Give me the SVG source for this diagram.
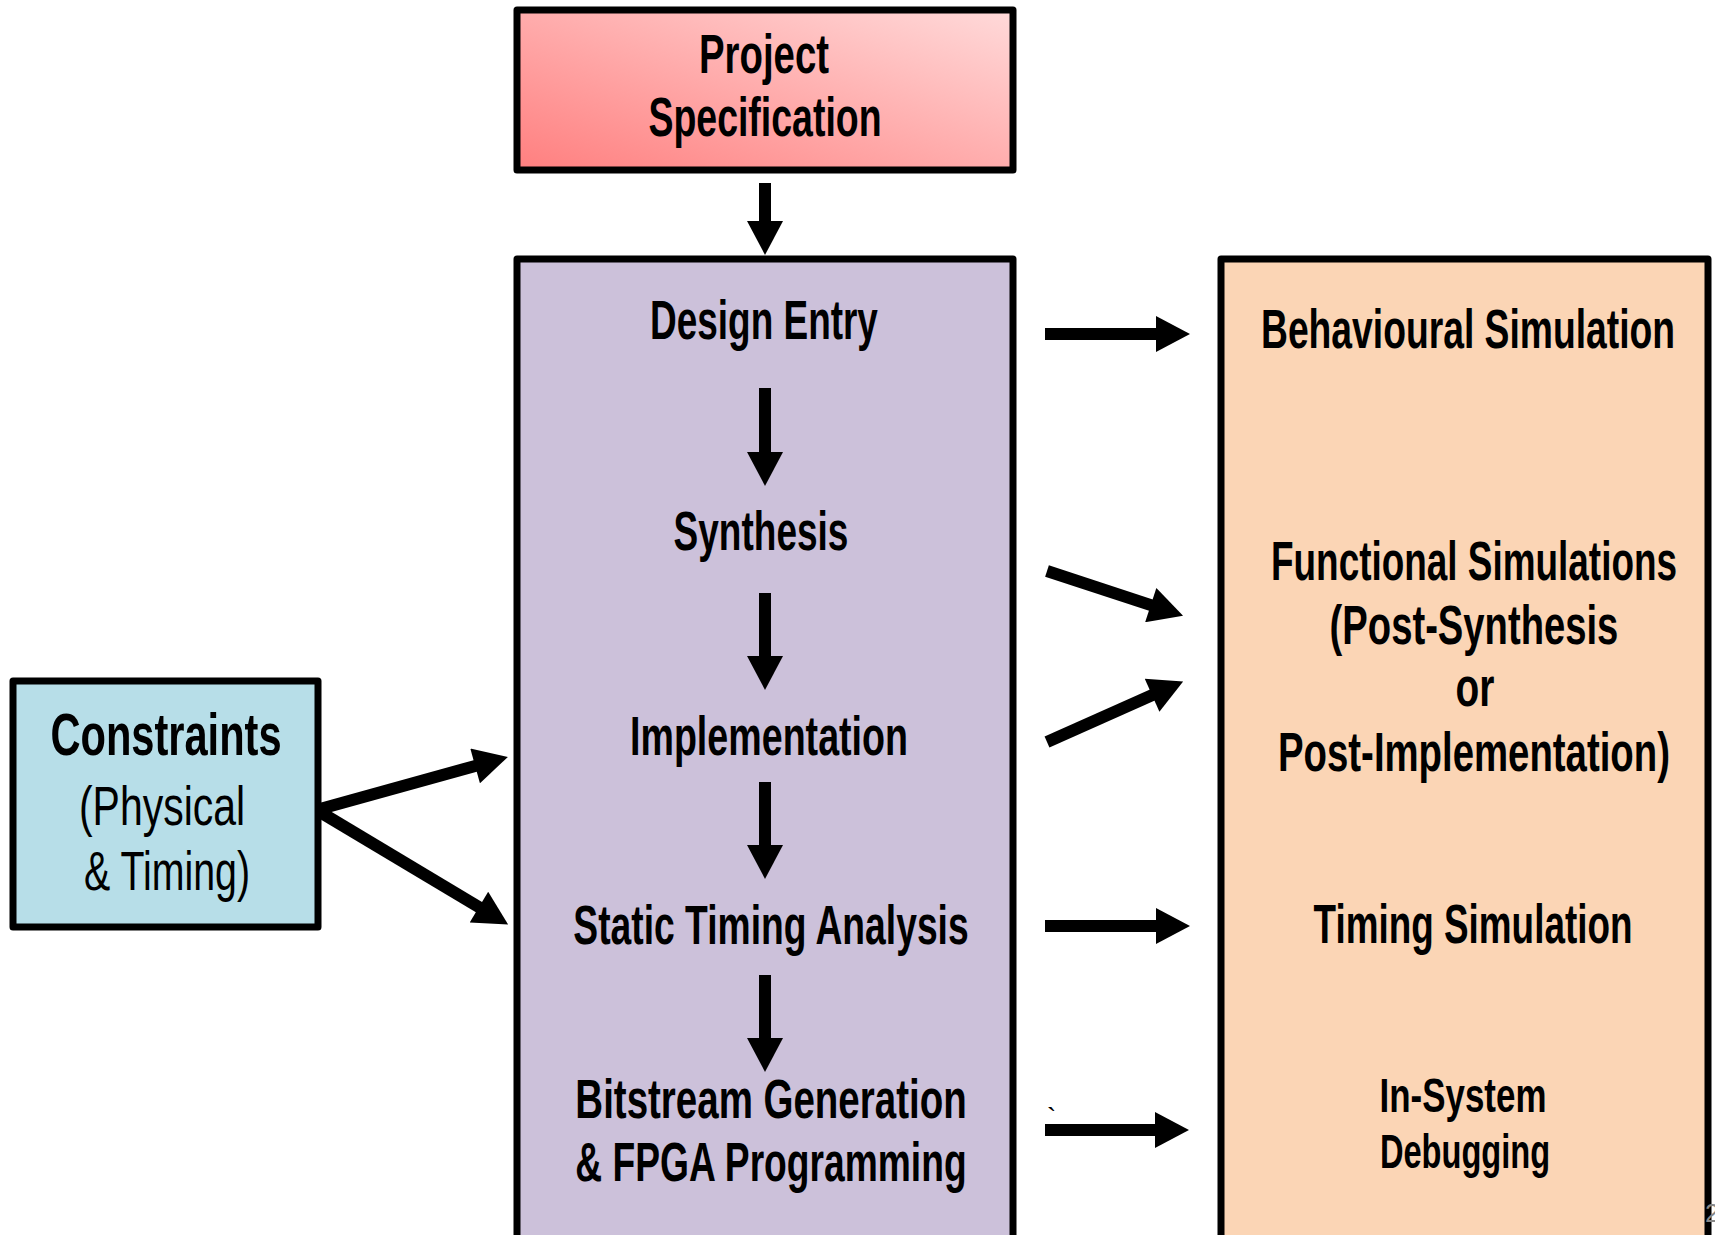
<svg xmlns="http://www.w3.org/2000/svg" width="1715" height="1235" viewBox="0 0 1715 1235">
<defs>
<linearGradient id="pink" x1="0" y1="1" x2="1" y2="0">
<stop offset="0" stop-color="#ff7f7f"/>
<stop offset="1" stop-color="#ffdada"/>
</linearGradient>
<marker id="ah" markerUnits="userSpaceOnUse" markerWidth="36" markerHeight="36" viewBox="0 -18 34 36" refX="1" refY="0" orient="auto">
<path d="M0,-18 L34,0 L0,18 Z" fill="#000"/>
</marker>
</defs>
<style>
.box{stroke:#000;stroke-width:7;stroke-linejoin:round}
.t{font-family:"Liberation Sans","Arial",sans-serif;font-weight:bold;font-size:56px;fill:#000;text-anchor:middle}
.r{font-weight:normal}
.c{stroke:#000;stroke-width:12;fill:none;marker-end:url(#ah)}
</style>
<rect width="1715" height="1235" fill="#fff"/>

<g id="project-spec">
<rect class="box" x="517" y="10" width="496" height="160" fill="url(#pink)"/>
<text class="t" transform="translate(764,73) scale(0.67,1)" textLength="194" lengthAdjust="spacingAndGlyphs">Project</text>
<text class="t" transform="translate(765,136) scale(0.67,1)" textLength="348" lengthAdjust="spacingAndGlyphs">Specification</text>
</g>

<g id="flow">
<rect class="box" x="517" y="259" width="496" height="985" fill="#ccc1da"/>
<text class="t" transform="translate(764,339) scale(0.67,1)" textLength="340" lengthAdjust="spacingAndGlyphs">Design Entry</text>
<text class="t" transform="translate(761,550) scale(0.67,1)" textLength="261" lengthAdjust="spacingAndGlyphs">Synthesis</text>
<text class="t" transform="translate(769,755) scale(0.67,1)" textLength="415" lengthAdjust="spacingAndGlyphs">Implementation</text>
<text class="t" transform="translate(771,944) scale(0.67,1)" textLength="590" lengthAdjust="spacingAndGlyphs">Static Timing Analysis</text>
<text class="t" transform="translate(771,1118) scale(0.67,1)" textLength="584" lengthAdjust="spacingAndGlyphs">Bitstream Generation</text>
<text class="t" transform="translate(771,1181) scale(0.67,1)" textLength="584" lengthAdjust="spacingAndGlyphs">&amp; FPGA Programming</text>
</g>

<g id="verification">
<rect class="box" x="1221" y="259" width="487" height="985" fill="#fbd5b5"/>
<text class="t" transform="translate(1468,348) scale(0.67,1)" textLength="618" lengthAdjust="spacingAndGlyphs">Behavioural Simulation</text>
<text class="t" transform="translate(1474,580) scale(0.67,1)" textLength="606" lengthAdjust="spacingAndGlyphs">Functional Simulations</text>
<text class="t" transform="translate(1474,644) scale(0.67,1)" textLength="431" lengthAdjust="spacingAndGlyphs">(Post-Synthesis</text>
<text class="t" transform="translate(1475,706) scale(0.67,1)" textLength="58" lengthAdjust="spacingAndGlyphs">or</text>
<text class="t" transform="translate(1474,771) scale(0.67,1)" textLength="585" lengthAdjust="spacingAndGlyphs">Post-Implementation)</text>
<text class="t" transform="translate(1473,943) scale(0.67,1)" textLength="476" lengthAdjust="spacingAndGlyphs">Timing Simulation</text>
<text class="t" style="font-size:49px" transform="translate(1463,1112) scale(0.67,1)" textLength="249" lengthAdjust="spacingAndGlyphs">In-System</text>
<text class="t" style="font-size:49px" transform="translate(1465,1168) scale(0.67,1)" textLength="254" lengthAdjust="spacingAndGlyphs">Debugging</text>
</g>

<g id="constraints">
<rect class="box" x="13" y="681" width="305" height="246" fill="#b7dee8"/>
<text class="t" style="font-size:60px" transform="translate(166,755) scale(0.67,1)" textLength="345" lengthAdjust="spacingAndGlyphs">Constraints</text>
<text class="t r" transform="translate(162,825) scale(0.67,1)" textLength="248" lengthAdjust="spacingAndGlyphs">(Physical</text>
<text class="t r" transform="translate(167,890) scale(0.67,1)" textLength="248" lengthAdjust="spacingAndGlyphs">&amp; Timing)</text>
</g>

<g id="connectors">
<line class="c" x1="765" y1="183" x2="765" y2="222"/>
<line class="c" x1="765" y1="388" x2="765" y2="453"/>
<line class="c" x1="765" y1="593" x2="765" y2="657"/>
<line class="c" x1="765" y1="782" x2="765" y2="846"/>
<line class="c" x1="765" y1="975" x2="765" y2="1039"/>
<line class="c" x1="1045" y1="334" x2="1157" y2="334"/>
<line class="c" x1="1047" y1="571" x2="1151.7" y2="605.4"/>
<line class="c" x1="1047" y1="742" x2="1153" y2="694.8"/>
<line class="c" x1="1045" y1="926" x2="1157" y2="926"/>
<line class="c" x1="1045" y1="1130" x2="1156" y2="1130"/>
<line class="c" x1="320" y1="809" x2="476.1" y2="765.7"/>
<line class="c" x1="320" y1="812" x2="479.8" y2="907.6"/>
</g>

<text x="1047" y="1127" style="font-family:'Liberation Sans',sans-serif;font-size:28px;fill:#000">`</text>
<text x="1705" y="1222" style="font-family:'Liberation Sans',sans-serif;font-size:26px;fill:#888">2</text>
</svg>
